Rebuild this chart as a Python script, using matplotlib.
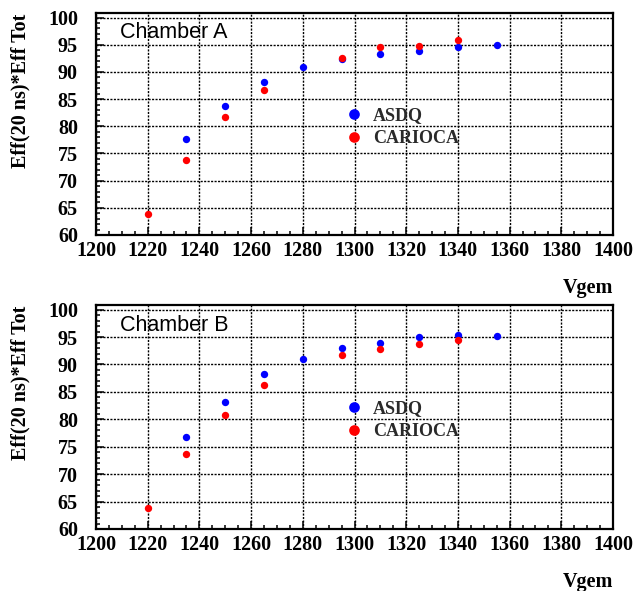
import matplotlib
matplotlib.use("Agg")
import matplotlib.pyplot as plt
from matplotlib.ticker import MultipleLocator

# Vgem settings (V)
vgem_asdq = [1235, 1250, 1265, 1280, 1295, 1310, 1325, 1340, 1355]
vgem_carioca = [1220, 1235, 1250, 1265, 1295, 1310, 1325, 1340]

# Chamber A
eff_asdq_a = [77.7, 83.7, 88.2, 90.85, 92.3, 93.35, 93.8, 94.6, 95.0]
eff_carioca_a = [63.8, 73.8, 81.8, 86.6, 92.6, 94.5, 94.75, 95.8]

# Chamber B
eff_asdq_b = [76.7, 83.1, 88.3, 91.0, 93.05, 94.0, 95.0, 95.4, 95.2]
eff_carioca_b = [63.8, 73.6, 80.8, 86.2, 91.8, 92.9, 93.7, 94.45]

panels = [
    ("Chamber A", eff_asdq_a, eff_carioca_a),
    ("Chamber B", eff_asdq_b, eff_carioca_b),
]

serif = "Liberation Serif"
W, H = 634, 591
fig = plt.figure(figsize=(W / 100, H / 100), dpi=100)

# axes boxes in pixels: (left, top, right, bottom)
boxes = [(96, 12.7, 613, 235), (96, 304.7, 613, 529)]
vgem_y = [288, 582]

for (title, asdq, carioca), (l, t, r, b), vy in zip(panels, boxes, vgem_y):
    ax = fig.add_axes([l / W, 1 - b / H, (r - l) / W, (b - t) / H])
    ax.plot(vgem_asdq, asdq, "o", color="#0000ff", ms=5.3, mec="none", zorder=3, label="ASDQ")
    ax.plot(vgem_carioca, carioca, "o", color="#ff0000", ms=5.3, mec="none", zorder=4, label="CARIOCA")

    ax.set_xlim(1200, 1400)
    ax.set_ylim(60, 100.9)
    ax.xaxis.set_major_locator(MultipleLocator(20))
    ax.xaxis.set_minor_locator(MultipleLocator(5))
    ax.yaxis.set_major_locator(MultipleLocator(5))
    ax.yaxis.set_minor_locator(MultipleLocator(1))
    ax.set_yticks(range(60, 101, 5))
    ax.tick_params(which="both", direction="in", top=False, right=False, width=1.1, color="black")
    ax.tick_params(which="major", length=6)
    ax.tick_params(which="minor", length=3)
    ax.tick_params(axis="x", pad=4)
    ax.tick_params(axis="y", pad=13)
    for lab in ax.get_xticklabels() + ax.get_yticklabels():
        lab.set_fontfamily(serif)
        lab.set_fontweight("bold")
        lab.set_fontsize(14.5)
    ax.grid(True, which="major", color="black", linestyle=(0, (1.5, 1.0)), linewidth=1.0)
    for sp in ax.spines.values():
        sp.set_linewidth(1.6)

    ax.text(0.046, 0.909, title, transform=ax.transAxes, fontsize=15.5,
            family="Liberation Sans", va="center", ha="left")

    leg = ax.legend(loc="center left",
                    bbox_to_anchor=(0.489, 0.485), frameon=False,
                    borderpad=0, borderaxespad=0,
                    markerscale=1.45, handlelength=0.6, handletextpad=0.75,
                    labelspacing=0.35, prop={"family": serif, "weight": "bold", "size": 13})
    for txt in leg.get_texts():
        txt.set_color("#2a2a2a")

    fig.text(20 / W, 1 - (t + 1) / H, "Eff(20 ns)*Eff Tot", rotation=90, ha="center", va="top",
             family=serif, fontweight="bold", fontsize=14.5)
    fig.text(r / W, 1 - vy / H, "Vgem", ha="right", va="center",
             family=serif, fontweight="bold", fontsize=14.5)

fig.savefig("out.png", dpi=100)
